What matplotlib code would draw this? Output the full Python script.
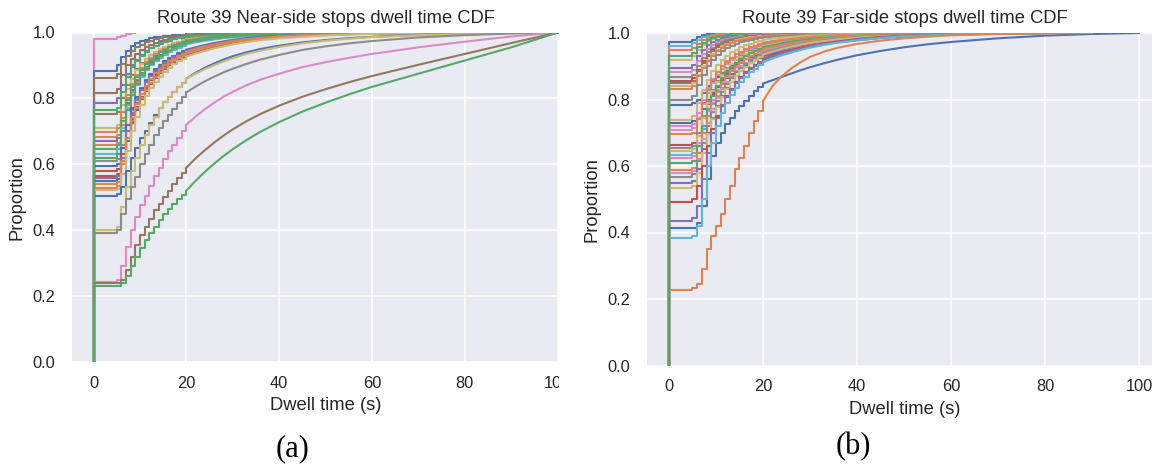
import matplotlib
matplotlib.use("Agg")
import matplotlib.pyplot as plt
from matplotlib.patches import Rectangle

# ---------------- data ----------------
# dwell-time knots (s): 1-s steps from 5 to 20 s, then knots of the smooth tail
dwell_steps = [5, 6, 7, 8, 9, 10, 11, 12, 13, 14, 15, 16, 17, 18, 19, 20]
dwell_tail = [22, 24, 26, 28, 30, 33, 36, 40, 45, 50, 55, 60, 70, 80, 90, 100]

# seaborn "deep" palette
BLUE, ORANGE, GREEN, RED, PURPLE = "#4C72B0", "#DD8452", "#55A868", "#C44E52", "#8172B3"
BROWN, PINK, GRAY, OLIVE, CYAN = "#937860", "#DA8BC3", "#8C8C8C", "#CCB974", "#64B5CD"

# ---- Near-side stops ----
near_p0 = [0.98, 0.882, 0.862, 0.815, 0.785, 0.752, 0.709, 0.698, 0.683, 0.672,
           0.659, 0.645, 0.632, 0.619, 0.609, 0.594, 0.579, 0.566, 0.558, 0.55,
           0.54, 0.528, 0.521, 0.505, 0.401, 0.393, 0.243, 0.239, 0.231, 0.765]
near_colors = [PINK, BLUE, BROWN, BROWN, PURPLE, BROWN, OLIVE, ORANGE, ORANGE, PURPLE,
               ORANGE, GREEN, CYAN, GREEN, GRAY, BLUE, RED, RED, PURPLE, BLUE,
               ORANGE, ORANGE, OLIVE, BLUE, OLIVE, GRAY, PINK, BROWN, GREEN, GREEN]
near_steps = [
    [0.985, 0.99, 0.995, 0.998, 1, 1, 1, 1, 1, 1, 1, 1, 1, 1, 1, 1],
    [0.90, 0.925, 0.945, 0.96, 0.968, 0.974, 0.978, 0.982, 0.985, 0.987, 0.989, 0.99, 0.991, 0.992, 0.993, 0.994],
    [0.875, 0.905, 0.93, 0.945, 0.955, 0.963, 0.97, 0.975, 0.979, 0.982, 0.985, 0.987, 0.989, 0.99, 0.991, 0.992],
    [0.83, 0.87, 0.90, 0.92, 0.935, 0.947, 0.956, 0.963, 0.969, 0.974, 0.978, 0.981, 0.984, 0.986, 0.988, 0.99],
    [0.80, 0.84, 0.875, 0.90, 0.918, 0.932, 0.943, 0.952, 0.96, 0.966, 0.971, 0.975, 0.979, 0.982, 0.984, 0.986],
    [0.76, 0.80, 0.84, 0.87, 0.89, 0.907, 0.92, 0.932, 0.942, 0.95, 0.957, 0.963, 0.968, 0.972, 0.976, 0.979],
    [0.72, 0.78, 0.83, 0.86, 0.885, 0.905, 0.92, 0.932, 0.942, 0.95, 0.957, 0.963, 0.968, 0.972, 0.976, 0.979],
    [0.71, 0.76, 0.81, 0.845, 0.872, 0.893, 0.91, 0.923, 0.934, 0.943, 0.951, 0.957, 0.963, 0.968, 0.972, 0.976],
    [0.69, 0.74, 0.80, 0.84, 0.867, 0.888, 0.905, 0.918, 0.93, 0.94, 0.948, 0.955, 0.961, 0.966, 0.97, 0.974],
    [0.68, 0.73, 0.785, 0.825, 0.855, 0.878, 0.896, 0.91, 0.922, 0.932, 0.941, 0.948, 0.955, 0.96, 0.965, 0.969],
    [0.665, 0.72, 0.78, 0.82, 0.85, 0.873, 0.891, 0.905, 0.918, 0.928, 0.937, 0.945, 0.952, 0.958, 0.963, 0.967],
    [0.66, 0.73, 0.795, 0.835, 0.865, 0.887, 0.904, 0.918, 0.93, 0.94, 0.948, 0.955, 0.961, 0.966, 0.97, 0.974],
    [0.645, 0.71, 0.77, 0.81, 0.842, 0.866, 0.885, 0.90, 0.913, 0.924, 0.933, 0.941, 0.948, 0.954, 0.959, 0.964],
    [0.63, 0.70, 0.765, 0.81, 0.845, 0.87, 0.89, 0.905, 0.918, 0.929, 0.938, 0.946, 0.953, 0.959, 0.964, 0.968],
    [0.615, 0.66, 0.72, 0.765, 0.80, 0.828, 0.85, 0.868, 0.883, 0.896, 0.907, 0.916, 0.924, 0.931, 0.937, 0.943],
    [0.60, 0.65, 0.72, 0.77, 0.805, 0.833, 0.856, 0.874, 0.889, 0.902, 0.913, 0.922, 0.93, 0.937, 0.943, 0.948],
    [0.585, 0.63, 0.70, 0.75, 0.785, 0.813, 0.836, 0.855, 0.871, 0.885, 0.897, 0.907, 0.916, 0.924, 0.931, 0.937],
    [0.57, 0.61, 0.68, 0.735, 0.773, 0.803, 0.828, 0.848, 0.865, 0.88, 0.893, 0.904, 0.913, 0.921, 0.928, 0.934],
    [0.565, 0.62, 0.70, 0.755, 0.795, 0.825, 0.849, 0.868, 0.884, 0.897, 0.908, 0.918, 0.926, 0.933, 0.939, 0.945],
    [0.555, 0.60, 0.67, 0.725, 0.765, 0.797, 0.823, 0.844, 0.862, 0.877, 0.89, 0.901, 0.911, 0.919, 0.927, 0.933],
    [0.545, 0.60, 0.68, 0.74, 0.782, 0.814, 0.839, 0.859, 0.876, 0.89, 0.902, 0.912, 0.921, 0.929, 0.936, 0.942],
    [0.535, 0.61, 0.68, 0.73, 0.77, 0.80, 0.826, 0.847, 0.865, 0.88, 0.893, 0.904, 0.914, 0.922, 0.93, 0.936],
    [0.525, 0.57, 0.64, 0.70, 0.745, 0.78, 0.808, 0.831, 0.85, 0.866, 0.88, 0.892, 0.903, 0.912, 0.92, 0.927],
    [0.51, 0.53, 0.58, 0.62, 0.65, 0.68, 0.70, 0.725, 0.75, 0.77, 0.79, 0.805, 0.82, 0.835, 0.848, 0.86],
    [0.41, 0.47, 0.53, 0.58, 0.62, 0.66, 0.69, 0.72, 0.745, 0.77, 0.79, 0.805, 0.82, 0.835, 0.848, 0.86],
    [0.40, 0.45, 0.495, 0.53, 0.56, 0.60, 0.63, 0.66, 0.69, 0.71, 0.73, 0.75, 0.768, 0.786, 0.803, 0.818],
    [0.25, 0.29, 0.35, 0.40, 0.44, 0.475, 0.505, 0.535, 0.565, 0.59, 0.615, 0.64, 0.66, 0.68, 0.70, 0.72],
    [0.24, 0.25, 0.28, 0.32, 0.355, 0.385, 0.41, 0.435, 0.46, 0.48, 0.50, 0.52, 0.54, 0.558, 0.575, 0.59],
    [0.232, 0.24, 0.26, 0.29, 0.32, 0.345, 0.37, 0.39, 0.41, 0.43, 0.45, 0.465, 0.48, 0.495, 0.508, 0.52],
    [0.77, 0.82, 0.865, 0.895, 0.915, 0.93, 0.942, 0.952, 0.96, 0.967, 0.972, 0.976, 0.98, 0.983, 0.986, 0.988],
]
near_tail = [
    [1],
    [0.995, 0.996, 0.997, 0.998, 0.998, 0.999, 0.999, 1],
    [0.993, 0.994, 0.995, 0.996, 0.997, 0.998, 0.998, 0.999, 1],
    [0.991, 0.993, 0.994, 0.995, 0.996, 0.997, 0.998, 0.998, 0.999, 1],
    [0.988, 0.99, 0.992, 0.994, 0.995, 0.996, 0.997, 0.998, 0.999, 1],
    [0.983, 0.986, 0.989, 0.991, 0.993, 0.995, 0.996, 0.997, 0.998, 0.999, 1],
    [0.983, 0.986, 0.989, 0.991, 0.993, 0.995, 0.996, 0.997, 0.998, 0.999, 1],
    [0.98, 0.984, 0.987, 0.99, 0.992, 0.994, 0.995, 0.997, 0.998, 0.999, 1],
    [0.979, 0.983, 0.986, 0.989, 0.991, 0.993, 0.995, 0.996, 0.997, 0.998, 0.999, 1],
    [0.974, 0.978, 0.982, 0.985, 0.988, 0.991, 0.993, 0.995, 0.997, 0.998, 0.999, 1],
    [0.972, 0.977, 0.981, 0.984, 0.987, 0.99, 0.992, 0.994, 0.996, 0.998, 0.999, 1],
    [0.979, 0.983, 0.986, 0.989, 0.991, 0.993, 0.995, 0.996, 0.997, 0.998, 0.999, 1],
    [0.97, 0.975, 0.979, 0.983, 0.986, 0.989, 0.991, 0.994, 0.996, 0.998, 0.999, 1],
    [0.974, 0.978, 0.982, 0.985, 0.988, 0.991, 0.993, 0.995, 0.997, 0.998, 0.999, 1],
    [0.951, 0.958, 0.964, 0.969, 0.974, 0.979, 0.983, 0.988, 0.992, 0.994, 0.996, 0.997, 0.999, 1],
    [0.955, 0.962, 0.968, 0.973, 0.978, 0.983, 0.987, 0.991, 0.994, 0.996, 0.998, 0.999, 1],
    [0.945, 0.953, 0.96, 0.966, 0.972, 0.977, 0.982, 0.987, 0.991, 0.994, 0.996, 0.997, 0.999, 1],
    [0.943, 0.951, 0.958, 0.964, 0.97, 0.976, 0.981, 0.986, 0.99, 0.993, 0.995, 0.997, 0.999, 1],
    [0.953, 0.96, 0.966, 0.971, 0.976, 0.981, 0.985, 0.989, 0.993, 0.995, 0.997, 0.998, 0.999, 1],
    [0.942, 0.95, 0.957, 0.963, 0.969, 0.975, 0.98, 0.985, 0.989, 0.992, 0.995, 0.997, 0.999, 1],
    [0.95, 0.957, 0.963, 0.969, 0.974, 0.979, 0.984, 0.988, 0.992, 0.995, 0.997, 0.998, 0.999, 1],
    [0.944, 0.952, 0.959, 0.965, 0.971, 0.977, 0.982, 0.987, 0.991, 0.994, 0.996, 0.997, 0.999, 1],
    [0.936, 0.944, 0.952, 0.958, 0.964, 0.971, 0.977, 0.982, 0.987, 0.991, 0.994, 0.996, 0.998, 1],
    [0.878, 0.893, 0.906, 0.918, 0.928, 0.94, 0.95, 0.96, 0.97, 0.977, 0.983, 0.987, 0.993, 0.997, 0.999, 1],
    [0.875, 0.889, 0.901, 0.912, 0.922, 0.935, 0.945, 0.956, 0.967, 0.975, 0.981, 0.986, 0.992, 0.996, 0.999, 1],
    [0.836, 0.852, 0.866, 0.879, 0.89, 0.905, 0.918, 0.932, 0.947, 0.958, 0.967, 0.974, 0.985, 0.992, 0.997, 1],
    [0.745, 0.767, 0.787, 0.805, 0.82, 0.84, 0.857, 0.875, 0.895, 0.91, 0.923, 0.935, 0.955, 0.972, 0.988, 1],
    [0.618, 0.643, 0.666, 0.687, 0.706, 0.731, 0.753, 0.778, 0.805, 0.828, 0.849, 0.868, 0.902, 0.935, 0.968, 1],
    [0.55, 0.577, 0.602, 0.625, 0.646, 0.674, 0.699, 0.728, 0.76, 0.787, 0.812, 0.835, 0.875, 0.915, 0.955, 1],
    [0.99, 0.991, 0.992, 0.993, 0.994, 0.995, 0.996, 0.997, 0.998, 0.999, 1],
]

# ---- Far-side stops ----
far_p0 = [0.973, 0.962, 0.948, 0.92, 0.895, 0.884, 0.869, 0.857, 0.85, 0.84,
          0.831, 0.799, 0.782, 0.739, 0.729, 0.719, 0.709, 0.696, 0.664, 0.654,
          0.644, 0.633, 0.623, 0.608, 0.588, 0.578, 0.568, 0.548, 0.533, 0.493,
          0.435, 0.413, 0.384, 0.227, 0.93]
far_colors = [BLUE, CYAN, ORANGE, OLIVE, PURPLE, PINK, GRAY, RED, BROWN, OLIVE,
              ORANGE, GRAY, BLUE, OLIVE, BLUE, PINK, PINK, ORANGE, RED, GRAY,
              OLIVE, CYAN, PINK, GREEN, ORANGE, PINK, GRAY, PURPLE, OLIVE, RED,
              PURPLE, BLUE, CYAN, ORANGE, GREEN]
far_steps = [
    [0.98, 0.988, 0.993, 0.996, 0.998, 0.999, 1, 1, 1, 1, 1, 1, 1, 1, 1, 1],
    [0.97, 0.98, 0.987, 0.992, 0.995, 0.997, 0.998, 0.999, 1, 1, 1, 1, 1, 1, 1, 1],
    [0.955, 0.968, 0.978, 0.985, 0.99, 0.993, 0.995, 0.997, 0.998, 0.999, 1, 1, 1, 1, 1, 1],
    [0.93, 0.95, 0.965, 0.975, 0.982, 0.987, 0.99, 0.993, 0.995, 0.996, 0.997, 0.998, 0.999, 1, 1, 1],
    [0.905, 0.93, 0.95, 0.963, 0.972, 0.979, 0.984, 0.988, 0.991, 0.993, 0.994, 0.995, 0.996, 0.997, 0.998, 0.998],
    [0.89, 0.915, 0.938, 0.953, 0.964, 0.972, 0.978, 0.983, 0.986, 0.989, 0.991, 0.992, 0.993, 0.994, 0.995, 0.996],
    [0.875, 0.90, 0.925, 0.943, 0.956, 0.966, 0.973, 0.978, 0.982, 0.985, 0.988, 0.99, 0.991, 0.992, 0.993, 0.994],
    [0.865, 0.89, 0.915, 0.935, 0.95, 0.96, 0.968, 0.974, 0.979, 0.983, 0.986, 0.988, 0.99, 0.991, 0.992, 0.993],
    [0.855, 0.885, 0.91, 0.93, 0.945, 0.957, 0.966, 0.973, 0.978, 0.982, 0.985, 0.987, 0.989, 0.99, 0.991, 0.992],
    [0.85, 0.875, 0.90, 0.92, 0.937, 0.95, 0.96, 0.967, 0.973, 0.978, 0.982, 0.985, 0.987, 0.989, 0.99, 0.991],
    [0.84, 0.87, 0.895, 0.915, 0.932, 0.945, 0.955, 0.963, 0.97, 0.975, 0.979, 0.982, 0.985, 0.987, 0.989, 0.99],
    [0.81, 0.845, 0.875, 0.90, 0.92, 0.935, 0.946, 0.955, 0.962, 0.968, 0.973, 0.977, 0.98, 0.983, 0.985, 0.987],
    [0.79, 0.80, 0.82, 0.84, 0.855, 0.868, 0.88, 0.89, 0.90, 0.908, 0.915, 0.922, 0.928, 0.934, 0.94, 0.945],
    [0.75, 0.79, 0.83, 0.86, 0.885, 0.905, 0.92, 0.932, 0.942, 0.95, 0.957, 0.963, 0.968, 0.972, 0.976, 0.979],
    [0.735, 0.745, 0.77, 0.80, 0.82, 0.838, 0.853, 0.866, 0.877, 0.887, 0.896, 0.904, 0.911, 0.918, 0.924, 0.93],
    [0.725, 0.76, 0.80, 0.835, 0.862, 0.884, 0.901, 0.915, 0.926, 0.936, 0.944, 0.951, 0.957, 0.962, 0.966, 0.97],
    [0.715, 0.745, 0.785, 0.82, 0.85, 0.873, 0.891, 0.906, 0.918, 0.928, 0.937, 0.945, 0.951, 0.957, 0.962, 0.966],
    [0.70, 0.74, 0.79, 0.83, 0.86, 0.883, 0.90, 0.914, 0.926, 0.936, 0.944, 0.951, 0.957, 0.962, 0.966, 0.97],
    [0.67, 0.70, 0.745, 0.785, 0.815, 0.84, 0.86, 0.877, 0.891, 0.903, 0.913, 0.922, 0.93, 0.937, 0.943, 0.948],
    [0.66, 0.70, 0.75, 0.795, 0.83, 0.856, 0.877, 0.894, 0.908, 0.92, 0.93, 0.938, 0.945, 0.951, 0.956, 0.961],
    [0.65, 0.69, 0.745, 0.79, 0.825, 0.852, 0.874, 0.892, 0.906, 0.918, 0.928, 0.937, 0.944, 0.95, 0.955, 0.96],
    [0.64, 0.67, 0.71, 0.75, 0.785, 0.812, 0.835, 0.854, 0.87, 0.884, 0.896, 0.906, 0.915, 0.923, 0.93, 0.936],
    [0.63, 0.67, 0.72, 0.765, 0.80, 0.83, 0.853, 0.872, 0.888, 0.901, 0.912, 0.922, 0.93, 0.937, 0.943, 0.948],
    [0.615, 0.66, 0.72, 0.77, 0.81, 0.84, 0.864, 0.883, 0.898, 0.911, 0.922, 0.931, 0.939, 0.946, 0.952, 0.957],
    [0.595, 0.64, 0.70, 0.75, 0.79, 0.822, 0.848, 0.868, 0.885, 0.899, 0.911, 0.921, 0.93, 0.938, 0.945, 0.951],
    [0.585, 0.62, 0.68, 0.73, 0.772, 0.805, 0.832, 0.854, 0.872, 0.887, 0.90, 0.911, 0.921, 0.929, 0.936, 0.942],
    [0.575, 0.615, 0.67, 0.72, 0.762, 0.796, 0.824, 0.847, 0.866, 0.882, 0.896, 0.908, 0.918, 0.927, 0.934, 0.94],
    [0.555, 0.59, 0.65, 0.70, 0.745, 0.78, 0.81, 0.834, 0.854, 0.871, 0.886, 0.898, 0.909, 0.918, 0.926, 0.933],
    [0.54, 0.58, 0.64, 0.695, 0.74, 0.777, 0.807, 0.832, 0.853, 0.871, 0.886, 0.899, 0.91, 0.92, 0.928, 0.935],
    [0.50, 0.54, 0.60, 0.66, 0.71, 0.75, 0.783, 0.81, 0.833, 0.852, 0.868, 0.882, 0.894, 0.905, 0.914, 0.922],
    [0.445, 0.48, 0.56, 0.64, 0.70, 0.745, 0.78, 0.808, 0.83, 0.849, 0.865, 0.879, 0.891, 0.901, 0.91, 0.918],
    [0.415, 0.43, 0.48, 0.56, 0.63, 0.67, 0.70, 0.725, 0.745, 0.765, 0.78, 0.795, 0.81, 0.825, 0.837, 0.848],
    [0.39, 0.42, 0.50, 0.60, 0.67, 0.72, 0.76, 0.79, 0.815, 0.836, 0.854, 0.869, 0.882, 0.893, 0.903, 0.912],
    [0.232, 0.245, 0.29, 0.35, 0.39, 0.42, 0.455, 0.50, 0.54, 0.59, 0.625, 0.66, 0.70, 0.735, 0.765, 0.795],
    [0.94, 0.958, 0.97, 0.979, 0.985, 0.989, 0.992, 0.994, 0.996, 0.997, 0.998, 0.999, 1, 1, 1, 1],
]
far_tail = [
    [1],
    [1],
    [1],
    [1],
    [0.999, 0.999, 1],
    [0.997, 0.997, 0.998, 0.998, 0.999, 0.999, 1],
    [0.995, 0.996, 0.997, 0.997, 0.998, 0.999, 0.999, 1],
    [0.994, 0.995, 0.996, 0.997, 0.997, 0.998, 0.999, 0.999, 1],
    [0.993, 0.994, 0.995, 0.996, 0.997, 0.998, 0.998, 0.999, 1],
    [0.992, 0.993, 0.994, 0.995, 0.996, 0.997, 0.998, 0.999, 0.999, 1],
    [0.991, 0.992, 0.993, 0.995, 0.996, 0.997, 0.998, 0.999, 0.999, 1],
    [0.989, 0.991, 0.992, 0.994, 0.995, 0.996, 0.997, 0.998, 0.999, 1],
    [0.951, 0.956, 0.961, 0.965, 0.969, 0.974, 0.978, 0.983, 0.988, 0.992, 0.995, 0.997, 0.999, 1],
    [0.983, 0.986, 0.988, 0.99, 0.992, 0.994, 0.996, 0.997, 0.998, 0.999, 1],
    [0.937, 0.944, 0.95, 0.955, 0.96, 0.967, 0.972, 0.978, 0.985, 0.99, 0.993, 0.995, 0.998, 1],
    [0.975, 0.979, 0.982, 0.985, 0.988, 0.991, 0.993, 0.995, 0.997, 0.998, 0.999, 1],
    [0.971, 0.976, 0.979, 0.982, 0.985, 0.988, 0.991, 0.994, 0.996, 0.998, 0.999, 1],
    [0.975, 0.979, 0.982, 0.985, 0.988, 0.991, 0.993, 0.995, 0.997, 0.998, 0.999, 1],
    [0.955, 0.961, 0.966, 0.971, 0.975, 0.98, 0.984, 0.988, 0.992, 0.995, 0.997, 0.998, 0.999, 1],
    [0.967, 0.972, 0.976, 0.98, 0.983, 0.987, 0.99, 0.993, 0.995, 0.997, 0.998, 0.999, 1],
    [0.966, 0.971, 0.975, 0.979, 0.983, 0.987, 0.99, 0.993, 0.995, 0.997, 0.998, 0.999, 1],
    [0.944, 0.951, 0.957, 0.963, 0.968, 0.974, 0.979, 0.985, 0.99, 0.993, 0.995, 0.997, 0.999, 1],
    [0.955, 0.961, 0.966, 0.971, 0.975, 0.98, 0.984, 0.988, 0.992, 0.995, 0.997, 0.998, 0.999, 1],
    [0.963, 0.969, 0.974, 0.978, 0.982, 0.986, 0.989, 0.992, 0.995, 0.997, 0.998, 0.999, 1],
    [0.958, 0.964, 0.969, 0.974, 0.978, 0.983, 0.987, 0.991, 0.994, 0.996, 0.998, 0.999, 1],
    [0.95, 0.957, 0.963, 0.968, 0.973, 0.979, 0.983, 0.988, 0.992, 0.995, 0.997, 0.998, 0.999, 1],
    [0.948, 0.955, 0.962, 0.967, 0.972, 0.978, 0.983, 0.988, 0.992, 0.995, 0.997, 0.998, 0.999, 1],
    [0.942, 0.95, 0.957, 0.963, 0.968, 0.974, 0.979, 0.985, 0.99, 0.993, 0.995, 0.997, 0.999, 1],
    [0.944, 0.952, 0.959, 0.965, 0.97, 0.976, 0.981, 0.986, 0.99, 0.993, 0.995, 0.997, 0.999, 1],
    [0.932, 0.941, 0.949, 0.956, 0.962, 0.969, 0.975, 0.982, 0.988, 0.992, 0.995, 0.997, 0.999, 1],
    [0.929, 0.938, 0.946, 0.953, 0.96, 0.967, 0.973, 0.98, 0.986, 0.991, 0.994, 0.996, 0.999, 1],
    [0.858, 0.868, 0.878, 0.888, 0.897, 0.909, 0.92, 0.933, 0.946, 0.957, 0.966, 0.973, 0.984, 0.992, 0.997, 1],
    [0.923, 0.933, 0.941, 0.949, 0.956, 0.964, 0.971, 0.978, 0.985, 0.99, 0.993, 0.996, 0.998, 1],
    [0.84, 0.87, 0.893, 0.912, 0.928, 0.944, 0.956, 0.967, 0.977, 0.984, 0.989, 0.993, 0.997, 0.999, 1],
    [1],
]

x_ticks = [0, 20, 40, 60, 80, 100]
y_ticks = [0.0, 0.2, 0.4, 0.6, 0.8, 1.0]
titles = ["Route 39 Near-side stops dwell time CDF", "Route 39 Far-side stops dwell time CDF"]
captions = ["(a)", "(b)"]

# ---------------- style ----------------
plt.rcParams.update({
    "font.family": ["Liberation Sans", "DejaVu Sans"],
    "text.color": "#262626",
    "axes.labelcolor": "#262626",
    "xtick.color": "#262626",
    "ytick.color": "#262626",
    "axes.facecolor": "#EAEAF2",
    "axes.edgecolor": "white",
    "grid.color": "white",
    "grid.linewidth": 1.1,
})

W, H = 1152, 466
fig = plt.figure(figsize=(W / 100, H / 100), dpi=100)


def rect(left, top, right, bottom):
    return [left / W, 1 - bottom / H, (right - left) / W, (bottom - top) / H]


def cut_at_one(xs, ys):
    for i, v in enumerate(ys):
        if v >= 1:
            return xs[:i + 1], ys[:i + 1], True
    return xs, ys, False


def draw_ecdf(ax, p0, steps, tail, color):
    # staircase part (ECDF steps up to 20 s)
    sx, sy, done = cut_at_one([0, 0] + dwell_steps, [0, p0] + steps)
    ax.plot(sx, sy, drawstyle="steps-post", color=color, lw=1.5)
    if done:
        return
    # long tail drawn through its knots
    tx = [dwell_steps[-1]] + dwell_tail[:len(tail)]
    ty = [steps[-1]] + tail
    tx, ty, _ = cut_at_one(tx, ty)
    ax.plot(tx, ty, color=color, lw=1.5)


panels = [
    dict(rect=rect(71.85, 32.5, 579.5, 362.0), xlim=(-4.67, 104.7),
         p0=near_p0, steps=near_steps, tail=near_tail, colors=near_colors),
    dict(rect=rect(646.9, 33.0, 1162.5, 365.5), xlim=(-4.7, 105),
         p0=far_p0, steps=far_steps, tail=far_tail, colors=far_colors),
]

label_y_px = [405, 409]
label_x_px = [16.7, 591.6]

for k, pdef in enumerate(panels):
    ax = fig.add_axes(pdef["rect"])
    ax.set_axisbelow(True)
    ax.grid(True)
    for s in ax.spines.values():
        s.set_visible(False)
    for p0, st, tl, c in zip(pdef["p0"], pdef["steps"], pdef["tail"], pdef["colors"]):
        draw_ecdf(ax, p0, st, tl, c)
    ax.set_xlim(*pdef["xlim"])
    ax.set_ylim(0, 1)
    ax.set_xticks(x_ticks)
    ax.set_yticks(y_ticks)
    ax.set_yticklabels([f"{v:.1f}" for v in y_ticks])
    ax.tick_params(axis="both", length=0, labelsize=11.8)
    ax.tick_params(axis="y", pad=12)
    ax.tick_params(axis="x", pad=10)
    ax.set_title(titles[k], fontsize=13.2, pad=7)
    ax.set_xlabel("Dwell time (s)", fontsize=13.2)
    ax.set_ylabel("Proportion", fontsize=13.2)
    ax.xaxis.label.set_va("center")
    ax.yaxis.label.set_va("center")
    r = pdef["rect"]
    bb_w, bb_h = r[2] * W, r[3] * H
    top_px = (1 - r[1] - r[3]) * H
    left_px = r[0] * W
    ax.xaxis.set_label_coords(0.5, (top_px + bb_h - label_y_px[k]) / bb_h)
    ax.yaxis.set_label_coords((label_x_px[k] - left_px) / bb_w, 0.5)

# the left panel is cropped on its right side in the reference
fig.add_artist(Rectangle((559 / W, 0), (582 - 559) / W, 1, transform=fig.transFigure,
                         facecolor="white", edgecolor="none", zorder=10))

fig.text(293 / W, 1 - 449 / H, captions[0], ha="center", va="center",
         fontsize=22, family=["Liberation Serif", "DejaVu Serif"], color="black")
fig.text(853 / W, 1 - 447 / H, captions[1], ha="center", va="center",
         fontsize=22, family=["Liberation Serif", "DejaVu Serif"], color="black")

fig.savefig("out.png", dpi=100, facecolor="white")
